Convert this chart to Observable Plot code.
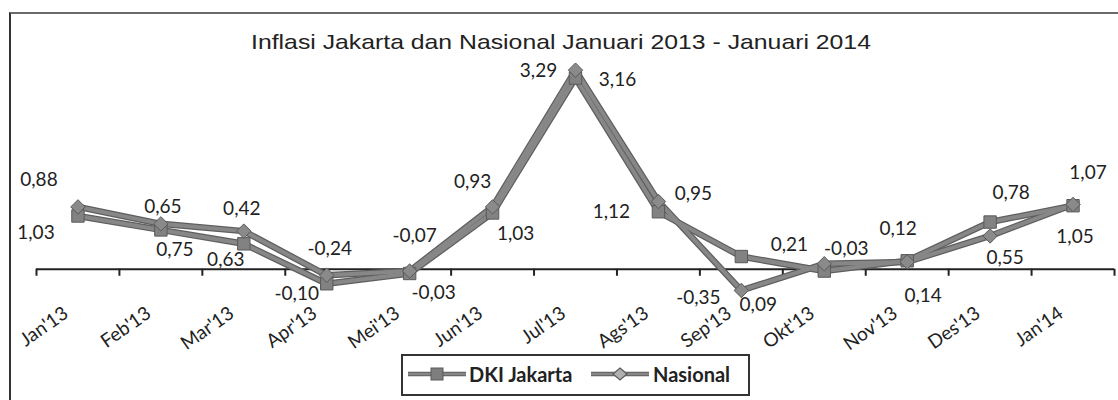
<!DOCTYPE html>
<html><head><meta charset="utf-8">
<script src="https://cdn.jsdelivr.net/npm/d3@7"></script>
<script src="https://cdn.jsdelivr.net/npm/@observablehq/plot@0.6"></script>
<style>
body{margin:0;background:#fff;}
#wrap{position:relative;width:1118px;height:400px;overflow:hidden;font-family:Lato,sans-serif;background:#fff;}
#frame{position:absolute;left:9px;top:12px;width:1200px;height:500px;border-top:2px solid #6a6a6a;border-left:2px solid #333;}
#title{position:absolute;left:0;width:1122px;top:30px;text-align:center;font-family:"Liberation Sans",Arial,sans-serif;font-size:21px;line-height:24px;color:#222;transform:scaleX(1.18);transform-origin:561px 50%;}
#chart{position:absolute;left:0;top:56px;}
#legend{position:absolute;left:401px;top:354px;width:345px;height:38px;border:2px solid #333;font-family:Lato,sans-serif;font-weight:bold;font-size:20px;color:#222;}
#legend .item{position:absolute;top:0;line-height:36px;height:36px;}
#legend svg{position:absolute;top:0;}
</style>
</head><body>
<div id="wrap">
  <div id="frame"></div>
  <div id="title">Inflasi Jakarta dan Nasional Januari 2013 - Januari 2014</div>
  <div id="chart"></div>
  <div id="legend"></div>
</div>
<script>
const months = ["Jan'13","Feb'13","Mar'13","Apr'13","Mei'13","Jun'13","Jul'13","Ags'13","Sep'13","Okt'13","Nov'13","Des'13","Jan'14"];
const seriesNames = ["DKI Jakarta", "Nasional"];
const jakarta = [0.88, 0.65, 0.42, -0.24, -0.07, 0.93, 3.16, 0.95, 0.21, -0.03, 0.14, 0.78, 1.05];
const nasional = [1.03, 0.75, 0.63, -0.10, -0.03, 1.03, 3.29, 1.12, -0.35, 0.09, 0.12, 0.55, 1.07];

// label placement (pixel offsets of each data label from its point)
const jakartaLabelOffset = [[-39,-36],[2,-23],[-2,-35],[3,-35],[5,-38],[-20,-31],[42,2],[35,-18],[48,-12],[22,-22],[16,35],[21,-29],[2,31]];
const nasionalLabelOffset = [[-42,26],[14,26],[-18,29],[-30,19],[24,22],[23,27],[-37,1],[-47,10],[-43,7],[-66,41],[-9,-33],[15,22],[15,-32]];

const fmt = v => v.toFixed(2).replace(".", ",");
const rowsJ = months.map((m, i) => ({i, month: m, v: jakarta[i], series: seriesNames[0], off: jakartaLabelOffset[i]}));
const rowsN = months.map((m, i) => ({i, month: m, v: nasional[i], series: seriesNames[1], off: nasionalLabelOffset[i]}));
const rows = rowsJ.concat(rowsN);
const ticks = d3.range(months.length + 1).map(k => k - 0.5);
const monthRows = months.map((m, i) => ({i, m}));

const lineColor = "#878787";
const edgeColor = "#5f5f5f";

const labelMarks = rows.map(d => Plot.text([d], {
  x: "i", y: "v", text: r => fmt(r.v), dx: d.off[0], dy: d.off[1],
  fontSize: 19, fill: "#222"
}));

const chart = Plot.plot({
  width: 1118,
  height: 294,
  marginLeft: 36,
  marginRight: 4,
  marginTop: 7,
  marginBottom: 51,
  x: {type: "linear", domain: [-0.5, months.length - 0.5], axis: null},
  y: {domain: [-0.5, 3.4], axis: null},
  style: {fontFamily: "Lato, sans-serif", background: "transparent", overflow: "visible"},
  marks: [
    Plot.ruleY([0], {stroke: "#222", strokeWidth: 2}),
    Plot.ruleX(ticks, {x: d => d, y1: 0, y2: 0, insetBottom: -7, stroke: "#222", strokeWidth: 2}),
    Plot.text(monthRows, {x: "i", y: 0, text: "m", rotate: -35, textAnchor: "end", dx: -12, dy: 42, fontSize: 19, fill: "#222"}),
    Plot.line(rows, {x: "i", y: "v", z: "series", stroke: edgeColor, strokeWidth: 6.5}),
    Plot.line(rows, {x: "i", y: "v", z: "series", stroke: lineColor, strokeWidth: 4}),
    Plot.dot(rowsJ, {x: "i", y: "v", symbol: "square", r: 7, fill: "#828282", stroke: "#5a5a5a", strokeWidth: 1}),
    Plot.dot(rowsN, {x: "i", y: "v", symbol: "diamond2", r: 6.5, fill: "#8a8a8a", stroke: "#5a5a5a", strokeWidth: 1}),
    ...labelMarks
  ]
});
document.getElementById("chart").appendChild(chart);

// legend
const legend = document.getElementById("legend");
const sym = (left, kind) => {
  const s = d3.create("svg").attr("width", 60).attr("height", 36).style("left", left + "px");
  s.append("line").attr("x1", 0).attr("x2", 58).attr("y1", 18).attr("y2", 18).attr("stroke", edgeColor).attr("stroke-width", 4.5);
  s.append("line").attr("x1", 0).attr("x2", 58).attr("y1", 18).attr("y2", 18).attr("stroke", lineColor).attr("stroke-width", 2.5);
  if (kind === "square") {
    s.append("rect").attr("x", 23).attr("y", 12).attr("width", 12).attr("height", 12).attr("fill", "#7e7e7e").attr("stroke", "#5a5a5a");
  } else {
    s.append("path").attr("d", "M29,12 L36,18 L29,24 L22,18 Z").attr("fill", "#b0b0b0").attr("stroke", "#5a5a5a").attr("stroke-width", 1.2);
  }
  return s.node();
};
legend.appendChild(sym(5, "square"));
const t1 = document.createElement("div"); t1.className = "item"; t1.style.left = "66px"; t1.textContent = seriesNames[0]; legend.appendChild(t1);
legend.appendChild(sym(188, "diamond"));
const t2 = document.createElement("div"); t2.className = "item"; t2.style.left = "250px"; t2.textContent = seriesNames[1]; legend.appendChild(t2);
</script>
</body></html>
